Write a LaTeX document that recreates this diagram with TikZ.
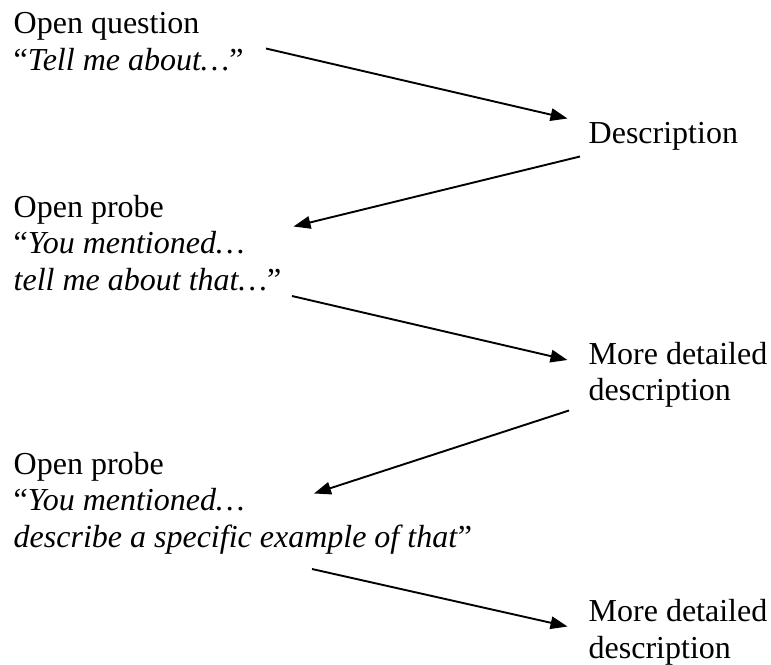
\documentclass[tikz,border=0pt]{standalone}
\usepackage{fontspec}
\setmainfont{Liberation Serif}
\usetikzlibrary{arrows.meta}
\begin{document}
\begin{tikzpicture}[x=1pt,y=-1pt,
  lbl/.style={anchor=base west, inner sep=0pt, font=\fontsize{32}{36.8}\selectfont},
  flow/.style={line width=1.9pt, -{Triangle[length=17pt,width=12.5pt]}}]
\useasboundingbox (0,0) rectangle (771,664);
% left column
\node[lbl] (oq1) at (13.5,33.5) {Open question};
\node[lbl] (oq2) at (13.5,70) {“\textit{Tell me about…}”};
\node[lbl] (pa1) at (13.5,217) {Open probe};
\node[lbl] (pa2) at (13.5,253.8) {“\textit{You mentioned…}};
\node[lbl] (pa3) at (13.5,290.6) {\textit{tell me about that…}”};
\node[lbl] (pb1) at (13.5,474.4) {Open probe};
\node[lbl] (pb2) at (13.5,510.8) {“\textit{You mentioned…}};
\node[lbl] (pb3) at (13.5,547.4) {\textit{describe a specific example of that}”};
% right column
\node[lbl] (d1) at (588.5,143.6) {Description};
\node[lbl] (m1a) at (588.5,364) {More detailed};
\node[lbl] (m1b) at (588.5,400.6) {description};
\node[lbl] (m2a) at (588.5,621) {More detailed};
\node[lbl] (m2b) at (588.5,658) {description};
% connector ends
\coordinate (a1s) at (266,48.5);
\coordinate (a1e) at (567.5,118.5);
\coordinate (a2s) at (580,156.5);
\coordinate (a2e) at (293.5,226.5);
\coordinate (a3s) at (292,296);
\coordinate (a3e) at (567.5,360);
\coordinate (a4s) at (569,410.5);
\coordinate (a4e) at (314,493.5);
\coordinate (a5s) at (312,569);
\coordinate (a5e) at (567.5,626.5);
\draw[flow] (a1s) -- (a1e);
\draw[flow] (a2s) -- (a2e);
\draw[flow] (a3s) -- (a3e);
\draw[flow] (a4s) -- (a4e);
\draw[flow] (a5s) -- (a5e);
\end{tikzpicture}
\end{document}
